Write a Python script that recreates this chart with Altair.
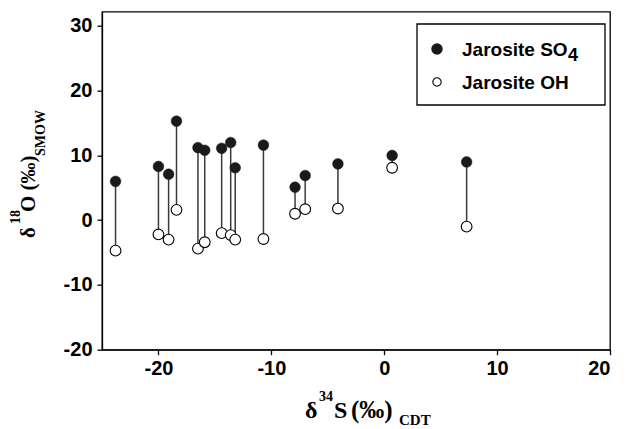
import altair as alt
import pandas as pd

# data
d34S = [-23.8, -20.0, -19.1, -18.4, -16.5, -15.9, -14.4, -13.6, -13.2, -10.7, -7.9, -7.0, -4.1, 0.7, 7.3]
d18O_SO4 = [6.0, 8.3, 7.1, 15.3, 11.2, 10.8, 11.1, 12.0, 8.1, 11.6, 5.1, 6.9, 8.7, 10.0, 9.0]
d18O_OH = [-4.7, -2.2, -3.0, 1.6, -4.4, -3.4, -2.0, -2.3, -3.0, -2.9, 1.0, 1.7, 1.8, 8.1, -1.0]

x_ticks = [-20, -10, 0, 10, 20]
y_ticks = [-20, -10, 0, 10, 20, 30]
legend_labels = ["Jarosite SO", "Jarosite OH"]

df = pd.DataFrame({"S": d34S, "SO4": d18O_SO4, "OH": d18O_OH})

W, H = 508, 338
OX, OY = 102, 11.7  # page position of plot origin
PAD_L, PAD_T = 94, 3.7
PAD_R = 642 - 16 - PAD_L - W
PAD_B = 429 - 8 - PAD_T - H

def px(X):
    return X - OX

def py(Y):
    return Y - OY

xs = alt.Scale(domain=[-25, 20], nice=False, zero=False)
ys = alt.Scale(domain=[-20, 32.2], nice=False, zero=False)

axis_common = dict(
    labelFont="Liberation Sans", labelFontWeight="bold", labelFontSize=20,
    labelColor="black", tickColor="black", tickSize=5, tickWidth=1.3,
    domainColor="black", domainWidth=1.3, grid=False, title=None,
    labelExpr="'' + datum.value",
)

base = alt.Chart(df)

rules = base.mark_rule(color="#3a3a3a", strokeWidth=1.5).encode(
    x=alt.X("S:Q", scale=xs, axis=alt.Axis(values=x_ticks, labelPadding=4, **axis_common)),
    y=alt.Y("OH:Q", scale=ys, axis=alt.Axis(values=y_ticks, labelPadding=5, **axis_common)),
    y2="SO4:Q",
)

oh = base.mark_point(shape="circle", filled=True, fill="white", stroke="black",
                     strokeWidth=1.1, size=115, opacity=1).encode(
    x=alt.X("S:Q", scale=xs), y=alt.Y("OH:Q", scale=ys))

so4 = base.mark_point(shape="circle", filled=True, fill="#1a1a1a", stroke="#1a1a1a",
                      strokeWidth=0.5, size=115, opacity=1).encode(
    x=alt.X("S:Q", scale=xs), y=alt.Y("SO4:Q", scale=ys))

one = alt.Chart(pd.DataFrame({"a": [0]}))

# legend
leg_box = one.mark_rect(fill="white", stroke="black", strokeWidth=1.3).encode(
    x=alt.value(px(417)), x2=alt.value(px(605)), y=alt.value(py(24)), y2=alt.value(py(105)))
leg_sym1 = one.mark_point(shape="circle", filled=True, fill="#1a1a1a", stroke="#1a1a1a",
                          size=90, opacity=1).encode(x=alt.value(px(437)), y=alt.value(py(49)))
leg_sym2 = one.mark_point(shape="circle", filled=True, fill="white", stroke="black",
                          strokeWidth=1.1, size=70, opacity=1).encode(x=alt.value(px(437)), y=alt.value(py(82)))

def txt(s, X, Y, size, font="Liberation Sans", angle=0, baseline="alphabetic"):
    return one.mark_text(text=s, font=font, fontWeight="bold", fontSize=size, color="black",
                         align="left", baseline=baseline, angle=angle).encode(
        x=alt.value(px(X)), y=alt.value(py(Y)))

leg_t1 = txt(legend_labels[0], 462, 56, 19)
leg_t1b = txt("4", 568, 61, 18)
leg_t2 = txt(legend_labels[1], 462, 89, 19)

serif = "Liberation Serif"
xt = [
    txt("δ", 305, 418, 24, serif),
    txt("34", 319, 401, 14, serif),
    txt("S", 334, 418, 24, serif),
    txt("(‰)", 351, 418, 25, serif),
    txt("CDT", 399, 425, 15, serif),
]
yt = [
    txt("δ", 35, 238, 21, serif, angle=270),
    txt("18", 20, 224, 14, serif, angle=270),
    txt("O (‰)", 35, 212, 21, serif, angle=270),
    txt("SMOW", 45, 156, 14, serif, angle=270),
]

chart = alt.layer(rules, oh, so4, leg_box, leg_sym1, leg_sym2, leg_t1, leg_t1b, leg_t2, *xt, *yt).properties(
    width=W, height=H,
    autosize=alt.AutoSizeParams(type="none"),
    padding={"left": PAD_L, "top": PAD_T, "right": PAD_R, "bottom": PAD_B},
).configure_view(stroke="black", strokeWidth=1.3)

chart.save("out.html", embed_options={"renderer": "svg", "actions": False})
